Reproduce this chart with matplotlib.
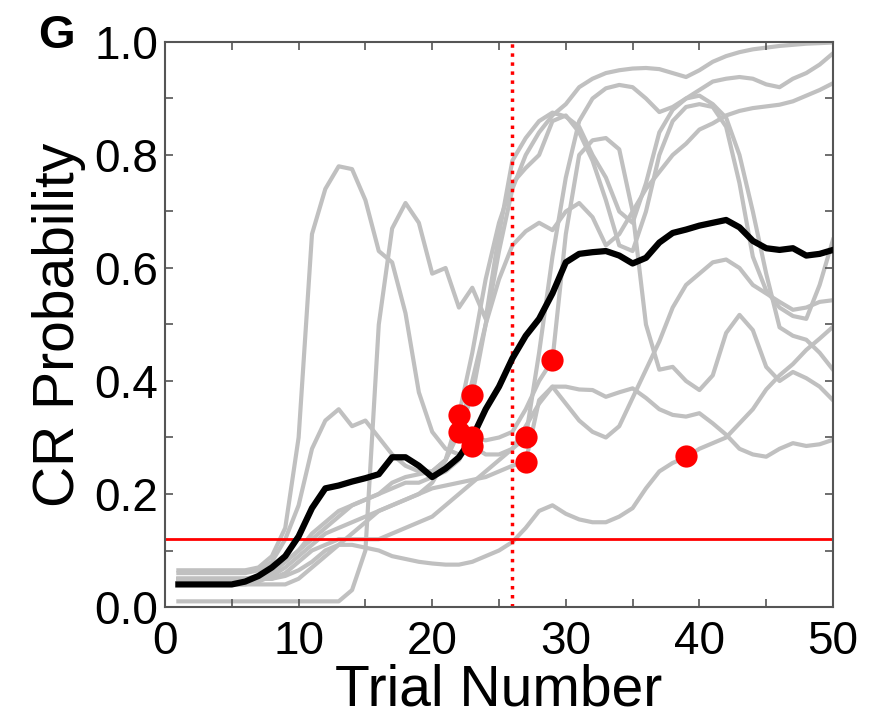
import matplotlib.pyplot as plt
import numpy as np
from matplotlib.ticker import MultipleLocator

plt.rcParams['font.family'] = ['Liberation Sans', 'DejaVu Sans']

# trial numbers
trials = np.arange(1, 51)

# individual animals (gray)
animal_1 = [0.065] * 6 + [0.07, 0.09, 0.14, 0.30, 0.66, 0.74, 0.78, 0.775, 0.72, 0.63, 0.61, 0.52, 0.38, 0.31,
                          0.28, 0.27, 0.285, 0.27, 0.27, 0.28, 0.32, 0.36, 0.39, 0.39, 0.385, 0.384, 0.372, 0.38,
                          0.387, 0.37, 0.35, 0.34, 0.337, 0.343, 0.325, 0.305, 0.28, 0.27, 0.266, 0.28, 0.29, 0.285,
                          0.288, 0.296]
animal_2 = [0.01] * 13 + [0.03, 0.10, 0.50, 0.67, 0.715, 0.68, 0.59, 0.60, 0.53, 0.565, 0.51, 0.66, 0.79, 0.83,
                          0.86, 0.875, 0.868, 0.85, 0.80, 0.76, 0.70, 0.68, 0.75, 0.84, 0.88, 0.90, 0.905, 0.89,
                          0.866, 0.80, 0.70, 0.59, 0.495, 0.48, 0.473, 0.45, 0.42]
animal_3 = [0.04] * 9 + [0.05, 0.07, 0.09, 0.11, 0.13, 0.15, 0.17, 0.18, 0.19, 0.20, 0.22, 0.26, 0.31, 0.375, 0.50,
                         0.63, 0.74, 0.80, 0.84, 0.87, 0.89, 0.92, 0.935, 0.945, 0.95, 0.953, 0.954, 0.952, 0.945,
                         0.938, 0.95, 0.965, 0.975, 0.982, 0.987, 0.99, 0.993, 0.995, 0.997, 0.998, 0.999]
animal_4 = [0.05] * 8 + [0.06, 0.08, 0.10, 0.11, 0.12, 0.12, 0.12, 0.12, 0.13, 0.14, 0.15, 0.16, 0.18, 0.20, 0.22,
                         0.24, 0.26, 0.28, 0.30, 0.45, 0.62, 0.76, 0.86, 0.90, 0.918, 0.924, 0.92, 0.90, 0.876,
                         0.885, 0.90, 0.915, 0.93, 0.935, 0.938, 0.935, 0.925, 0.92, 0.935, 0.945, 0.96, 0.98]
animal_5 = [0.06] * 6 + [0.065, 0.08, 0.12, 0.18, 0.28, 0.33, 0.35, 0.32, 0.33, 0.30, 0.27, 0.25, 0.24, 0.24, 0.26,
                         0.31, 0.40, 0.50, 0.58, 0.64, 0.665, 0.68, 0.667, 0.70, 0.715, 0.69, 0.64, 0.66, 0.70, 0.74,
                         0.77, 0.80, 0.82, 0.845, 0.856, 0.87, 0.878, 0.883, 0.886, 0.889, 0.895, 0.905, 0.915, 0.927]
animal_6 = [0.05] * 6 + [0.055, 0.065, 0.08, 0.10, 0.12, 0.14, 0.16, 0.18, 0.19, 0.20, 0.22, 0.23, 0.235, 0.24,
                         0.26, 0.34, 0.45, 0.58, 0.68, 0.75, 0.777, 0.80, 0.86, 0.87, 0.84, 0.79, 0.72, 0.64, 0.63,
                         0.70, 0.80, 0.86, 0.885, 0.89, 0.885, 0.85, 0.75, 0.62, 0.56, 0.53, 0.515, 0.51, 0.57, 0.65]
animal_7 = [0.04] * 6 + [0.045, 0.055, 0.07, 0.09, 0.11, 0.13, 0.14, 0.15, 0.16, 0.17, 0.18, 0.19, 0.20, 0.21,
                         0.215, 0.22, 0.225, 0.23, 0.24, 0.25, 0.257, 0.366, 0.39, 0.36, 0.33, 0.31, 0.30, 0.32,
                         0.37, 0.42, 0.47, 0.53, 0.57, 0.59, 0.61, 0.615, 0.60, 0.57, 0.555, 0.54, 0.526, 0.53,
                         0.54, 0.543]
animal_8 = [0.05] * 7 + [0.06, 0.08, 0.10, 0.13, 0.15, 0.17, 0.18, 0.19, 0.20, 0.21, 0.22, 0.22, 0.23, 0.24, 0.26,
                         0.30, 0.295, 0.30, 0.31, 0.35, 0.40, 0.437, 0.66, 0.80, 0.826, 0.83, 0.81, 0.70, 0.50, 0.42,
                         0.425, 0.40, 0.384, 0.41, 0.485, 0.517, 0.49, 0.425, 0.40, 0.416, 0.405, 0.39, 0.366]
animal_9 = [0.05] * 8 + [0.055, 0.065, 0.08, 0.10, 0.11, 0.11, 0.105, 0.10, 0.09, 0.085, 0.08, 0.077, 0.075,
                         0.075, 0.08, 0.09, 0.10, 0.115, 0.14, 0.17, 0.18, 0.165, 0.155, 0.15, 0.15, 0.16, 0.175,
                         0.21, 0.24, 0.255, 0.265, 0.28, 0.29, 0.30, 0.325, 0.35, 0.385, 0.41, 0.43, 0.455, 0.475,
                         0.496]
animals = [animal_1, animal_2, animal_3, animal_4, animal_5, animal_6, animal_7, animal_8, animal_9]

# group average (black)
mean_cr = [0.04, 0.04, 0.04, 0.04, 0.04, 0.045, 0.055, 0.07, 0.09, 0.125, 0.175, 0.21, 0.215, 0.222, 0.228,
           0.235, 0.265, 0.265, 0.25, 0.23, 0.245, 0.265, 0.30, 0.35, 0.39, 0.44, 0.48, 0.51, 0.555, 0.61,
           0.625, 0.628, 0.63, 0.622, 0.608, 0.618, 0.645, 0.662, 0.668, 0.675, 0.68, 0.685, 0.672, 0.648,
           0.635, 0.632, 0.635, 0.622, 0.625, 0.632]

# learning trials (red dots)
learn_trial = [22, 22, 23, 23, 23, 27, 27, 29, 39]
learn_prob = [0.34, 0.31, 0.375, 0.30, 0.285, 0.30, 0.257, 0.437, 0.268]

criterion = 0.12
mean_learn_trial = 26

fig = plt.figure(figsize=(8.75, 7.24), dpi=100)
ax = fig.add_axes([0.1886, 0.1616, 0.7634, 0.7804])

for a in animals:
    ax.plot(trials, a, color="#c0c0c0", lw=3, zorder=1)
ax.plot(trials, mean_cr, color="black", lw=4.5, zorder=3)
ax.axhline(criterion, color="#ff0000", lw=2, zorder=2)
ax.axvline(mean_learn_trial, color="#ff0000", lw=2.5, ls=(0, (1, 1.6)), zorder=2)
ax.plot(learn_trial, learn_prob, "o", color="#ff0000", ms=16, mec="none", zorder=4)

ax.set_xlim(0, 50)
ax.set_ylim(0, 1)
ax.xaxis.set_major_locator(MultipleLocator(10))
ax.xaxis.set_minor_locator(MultipleLocator(5))
ax.yaxis.set_major_locator(MultipleLocator(0.2))
ax.yaxis.set_minor_locator(MultipleLocator(0.1))
ax.yaxis.set_major_formatter(lambda v, p: f"{v:.1f}")
ax.tick_params(which="both", direction="in", top=True, right=True, length=6, width=1.2, color="#555555")
ax.tick_params(axis="x", labelsize=33, pad=9)
ax.tick_params(axis="y", labelsize=33, pad=5)
for s in ax.spines.values():
    s.set_color("#555555")
    s.set_linewidth(1.5)

ax.set_xlabel("Trial Number", fontsize=41, labelpad=0)
ax.set_ylabel("CR Probability", fontsize=41, labelpad=6)
fig.text(0.043, 0.98, "G", fontsize=34, fontweight="bold", va="top")

fig.savefig("out.png")
